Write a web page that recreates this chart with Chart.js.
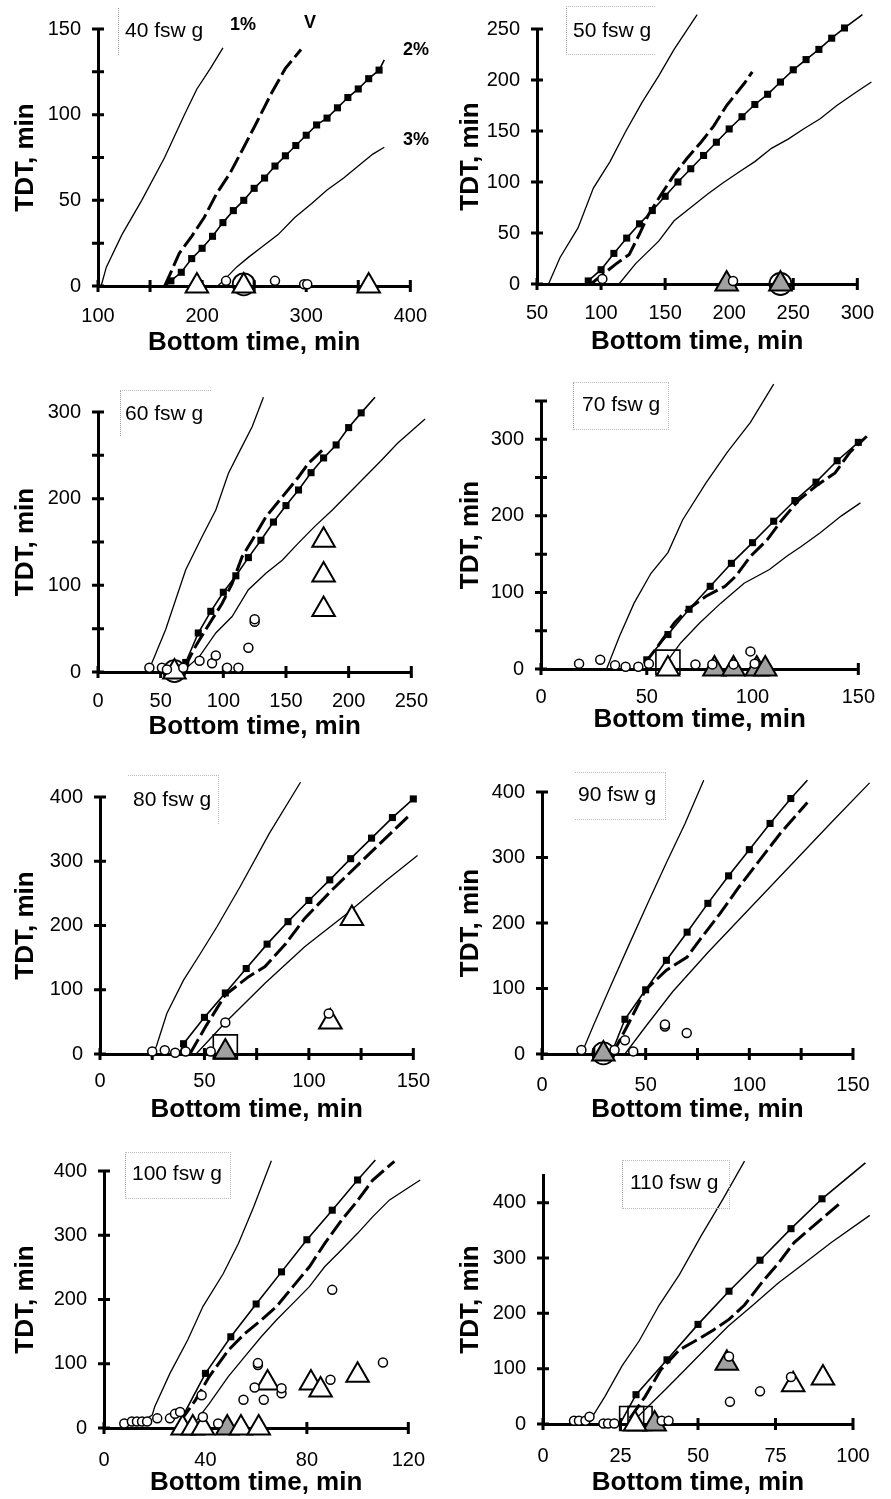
<!DOCTYPE html>
<html><head><meta charset="utf-8">
<script src="https://cdn.jsdelivr.net/npm/chart.js@4"></script>
<style>
body{margin:0;background:#fff;width:891px;height:1499px;position:relative;overflow:hidden;font-family:'Liberation Sans',Arial,sans-serif;}
canvas{position:absolute;}
.lbl{position:absolute;font-size:21px;line-height:21px;color:#000;white-space:pre;z-index:5;}
.box{position:absolute;border:1px dotted #bbb;border-left-color:#999;z-index:5;}
.pct{position:absolute;font-weight:bold;font-size:18px;line-height:18px;transform:translateX(-50%);z-index:5;}
</style></head><body>
<div class="box" style="left:118px;top:8px;width:95px;height:47px;border-right:none;border-top:none;border-bottom:none"></div>
<div class="lbl" style="left:125px;top:19px">40 fsw g</div>
<div class="box" style="left:566px;top:6px;width:88px;height:47px;border-right:none"></div>
<div class="lbl" style="left:573px;top:19px">50 fsw g</div>
<div class="box" style="left:120px;top:390px;width:90px;height:45px;border-right:none;border-bottom:none"></div>
<div class="lbl" style="left:125px;top:402px">60 fsw g</div>
<div class="box" style="left:573px;top:382px;width:94px;height:46px"></div>
<div class="lbl" style="left:582px;top:393px">70 fsw g</div>
<div class="box" style="left:128px;top:775px;width:90px;height:48px;border-left:none;border-bottom:none"></div>
<div class="lbl" style="left:133px;top:788px">80 fsw g</div>
<div class="box" style="left:575px;top:772px;width:90px;height:46px;border-left:none"></div>
<div class="lbl" style="left:578px;top:783px">90 fsw g</div>
<div class="box" style="left:125px;top:1152px;width:104px;height:45px"></div>
<div class="lbl" style="left:132px;top:1162px">100 fsw g</div>
<div class="box" style="left:622px;top:1160px;width:106px;height:47px"></div>
<div class="lbl" style="left:630px;top:1171px">110 fsw g</div>
<div class="pct" style="left:243px;top:15px">1%</div>
<div class="pct" style="left:310px;top:13px">V</div>
<div class="pct" style="left:416px;top:40px">2%</div>
<div class="pct" style="left:416px;top:130px">3%</div>
<script>
// ---------- DATA ----------
// 40 fsw g
const d40_p1 = [[103,0],[108,11],[123,30],[142,50],[164,75],[183,100],[195,115],[208,127],[220,139]];
const d40_v = [[164,0],[170,8],[178,19],[190,29],[202,40],[214,54],[227,66],[240,81],[252,95],[267,113],[280,127],[295,138]];
const d40_p2 = [[170,3],[180,8],[190,16],[200,22],[210,29],[220,37],[230,44],[240,50],[250,57],[260,63],[270,70],[280,76],[290,82],[300,88],[310,94],[320,98],[330,104],[340,110],[350,115],[360,121],[370,126]];
const d40_p2ext = [[165,0],[375,132]];
const d40_p3 = [[215,0],[222,4],[233,11],[245,17],[258,23],[273,30],[289,40],[305,48],[320,56],[336,63],[352,71],[364,77],[375,81]];
const d40_circ = [[223,3],[270,3],[298,1],[301,1]];
const d40_tri = [[195,0],[240,0],[360,0]];
const d40_bigc = [[240,1]];
// 50 fsw g
const d50_p1 = [[59,0],[68,26],[82,55],[94,94],[107,120],[119,149],[132,178],[145,204],[157,230],[175,264]];
const d50_v = [[92,0],[102,10],[112,20],[122,29],[130,49],[137,68],[147,88],[157,107],[167,123],[178,139],[188,155],[198,175],[212,197],[218,208]];
const d50_p2 = [[90,3],[100,14],[110,30],[120,45],[130,59],[140,72],[150,86],[160,100],[170,113],[180,126],[190,139],[200,152],[210,164],[220,176],[230,186],[240,198],[250,210],[260,220],[270,230],[280,241],[290,251]];
const d50_p2ext = [[304,264]];
const d50_p3 = [[114,0],[127,20],[145,42],[157,62],[170,75],[183,88],[195,99],[208,110],[220,120],[233,133],[246,142],[258,152],[271,162],[284,175],[299,188],[311,198]];
const d50_circ = [[101,5],[203,3]];
const d50_gtri = [[198,0],[240,0]];
const d50_bigc = [[240,0]];
// 60 fsw g
const d60_p1 = [[40,0],[54,49],[70,118],[83,156],[94,187],[104,229],[112,252],[123,283],[132,317]];
const d60_v = [[69,5],[78,30],[89,56],[99,79],[107,102],[115,133],[123,152],[134,179],[147,202],[160,225],[168,241],[179,256]];
const d60_p2 = [[70,11],[80,45],[90,70],[100,92],[110,111],[120,132],[130,152],[140,173],[150,192],[160,210],[170,230],[180,247],[190,262],[200,282],[210,299]];
const d60_p2ext = [[67,0],[221,317]];
const d60_p3 = [[67,0],[81,18],[94,45],[107,64],[120,95],[134,114],[147,129],[160,149],[173,168],[187,187],[200,206],[213,225],[226,244],[239,264],[261,292]];
const d60_circ = [[41,5],[51,5],[55,3],[68,5],[81,13],[91,10],[94,19],[103,5],[112,5],[120,28],[125,58],[125,61]];
const d60_tri = [[61,0],[180,72],[180,112],[180,152]];
const d60_bigc = [[61,1]];
// 70 fsw g
const d70_p1 = [[31,0],[37,42],[44,86],[52,125],[60,152],[67,195],[78,243],[88,283],[99,322],[110,372]];
const d70_v = [[49,7],[55,29],[63,60],[69,77],[78,95],[87,108],[92,121],[99,147],[107,169],[114,195],[122,221],[130,239],[139,256],[146,283],[154,304]];
const d70_p2 = [[50,12],[60,45],[70,78],[80,108],[90,138],[100,165],[110,193],[120,220],[130,244],[140,272],[150,296]];
const d70_p2ext = [[157,311]];
const d70_p3 = [[57,0],[66,34],[75,60],[85,86],[96,112],[108,130],[116,147],[123,160],[132,178],[142,200],[151,217],[158,232]];
const d70_circ = [[18,7],[28,12],[35,5],[40,3],[46,3],[51,7],[73,6],[81,6],[91,6],[99,23],[101,7]];
const d70_tri = [[60,0]];
const d70_gtri = [[82,0],[91,0],[102,0],[106,0]];
const d70_sq = [[60,9]];
// 80 fsw g
const d80_p1 = [[25,0],[27,12],[32,63],[40,115],[48,156],[56,198],[67,260],[81,343],[96,423]];
const d80_v = [[43,0],[51,45],[60,92],[71,120],[79,136],[89,172],[98,211],[111,255],[124,296],[138,340],[148,371]];
const d80_p2 = [[40,16],[50,57],[60,95],[70,133],[80,171],[90,206],[100,239],[110,271],[120,304],[130,336],[140,368],[150,397]];
const d80_p2ext = [[38,0],[157,418]];
const d80_p3 = [[46,0],[60,49],[79,110],[98,167],[118,218],[137,270],[152,309],[157,322]];
const d80_circ = [[25,4],[31,6],[36,2],[41,4],[53,4],[60,49],[109.5,63]];
const d80_tri = [[110.3,50],[120.6,211]];
const d80_gtri = [[60,3]];
const d80_sq = [[60,11]];
// 90 fsw g
const d90_p1 = [[19,0],[25,45],[33,103],[42,167],[51,230],[60,292],[69,352],[78,418]];
const d90_v = [[34,0],[41,42],[50,98],[60,128],[70,148],[76,174],[86,215],[95,255],[105,296],[115,337],[128,384]];
const d90_p2 = [[40,53],[50,98],[60,143],[70,186],[80,230],[90,272],[100,312],[110,352],[120,390]];
const d90_p2ext = [[34,5],[128,418]];
const d90_p3 = [[40,0],[50,42],[63,95],[80,155],[95,205],[110,255],[125,305],[140,355],[158,414]];
const d90_circ = [[19,6],[35,6],[40,21],[44,4],[59.3,42],[59.3,45],[69.8,32]];
const d90_gtri = [[29.6,0]];
const d90_bigc = [[29.6,1]];
// 100 fsw g
const d100_p1 = [[13,5],[19,20],[20,33],[26,85],[33,137],[39,189],[47,240],[53,287],[59,344],[66,416]];
const d100_v = [[30,10],[36,43],[41.5,80],[49,121],[55.5,147],[62,168],[68,189],[74.5,220],[81,251],[87,287],[93.6,323],[100,354],[106,386],[114.5,415]];
const d100_p2 = [[40,85],[50,142],[60,193],[70,243],[80,293],[90,339],[100,386]];
const d100_p2ext = [[29,3],[107,417]];
const d100_p3 = [[35,4],[41.5,38],[49,80],[55.5,111],[62,142],[68,168],[74.5,194],[81,220],[87,251],[93.6,277],[100,303],[106,329],[112.6,355],[124.7,386]];
const d100_circ = [[8,7],[11,10],[13,10],[15,10],[17,10],[21,15],[26,15],[28,22],[30,25],[38.5,51],[39,17],[45,7],[55,44],[59.4,63],[60.7,98],[60.7,101],[63,44],[70,54],[70,62],[89.3,75],[90,215],[110,102]];
const d100_tri = [[31,0],[35,0],[39,0],[54,0],[61,0],[64.5,70],[81.6,70],[85.4,59],[100,82]];
const d100_gtri = [[48.6,0]];
// 110 fsw g
const d110_p1 = [[15,8],[16,14],[20,50],[25.5,105],[31,150],[37.5,215],[44,270],[51,340],[58,406],[65,475]];
const d110_v = [[28,10],[33,50],[38,98],[44,134],[50,153],[55,170],[60,189],[65,215],[70.5,255],[76,291],[81,328],[86.6,355],[96,400]];
const d110_p2 = [[30,53],[40,116],[50,180],[60,240],[70,296],[80,353],[90,407]];
const d110_p2ext = [[25,2],[104,472]];
const d110_p3 = [[28.6,2],[34,32],[39.4,62],[45.8,98],[52.3,135],[59.8,177],[67.3,213],[75.9,255],[84.4,291],[93,328],[105.4,377]];
const d110_circ = [[10,6],[11.6,6],[13.7,6],[15,13],[19.5,1],[21,1],[23,1],[38.3,6],[40.5,6],[60.3,40],[70,59],[80,85],[60,122]];
const d110_tri = [[29.7,0],[80.7,71],[90.3,83]];
const d110_gtri = [[36,0],[59.3,110]];
const d110_sq = [[28.6,10],[31.3,10]];

// axis ranges / ticks
const xt40=[100,150,200,250,300,350,400], xl40=[100,200,300,400], yt40=[0,25,50,75,100,125,150], yl40=[0,50,100,150];
const xt50=[50,100,150,200,250,300], yt50=[0,50,100,150,200,250];
const xt60=[0,50,100,150,200,250], yt60=[0,50,100,150,200,250,300], yl60=[0,100,200,300];
const xt70=[0,50,100,150], yt70=[0,50,100,150,200,250,300,350], yl70=[0,100,200,300];
const xt80=[0,25,50,75,100,125,150], xl80=[0,50,100,150], yt80=[0,100,200,300,400];
const xt100=[0,40,80,120];
const xt110=[0,25,50,75,100], yt110=[0,100,200,300,400];

// ---------- BUILD ----------
Chart.defaults.font.family = "'Liberation Sans', Arial, sans-serif";
Chart.defaults.color = '#000';

const crossTicks = {
  id:'crossTicks',
  beforeDatasetsDraw(chart, args, o){
    const {ctx, chartArea:{left,bottom}} = chart;
    const xs = chart.scales.x, ys = chart.scales.y;
    ctx.save(); ctx.strokeStyle='#000'; ctx.lineWidth=3; ctx.beginPath();
    for (const v of o.xt){ const p = xs.getPixelForValue(v); ctx.moveTo(p,bottom-6); ctx.lineTo(p,bottom+6); }
    for (const v of o.yt){ const p = ys.getPixelForValue(v); ctx.moveTo(left-6,p); ctx.lineTo(left+6,p); }
    ctx.stroke(); ctx.restore();
  }
};

const pts = a => a.map(([x,y]) => ({x,y}));
const sortX = a => a.slice().sort((p,q)=>p[0]-q[0]);

const panels = [
 {d:{p1:d40_p1,v:d40_v,p2:d40_p2,p2e:d40_p2ext,p3:d40_p3,circ:d40_circ,tri:d40_tri,bigc:d40_bigc}, cv:[0,0,445,365], plot:[98,27,418,286], xr:[100,400], yr:[0,150], xt:xt40, xl:xl40, yt:yt40, yl:yl40, tOff:30, ttOff:57},
 {d:{p1:d50_p1,v:d50_v,p2:d50_p2,p2e:d50_p2ext,p3:d50_p3,circ:d50_circ,gtri:d50_gtri,bigc:d50_bigc}, cv:[445,0,446,365], plot:[537,26,867,284], xr:[50,300], yr:[0,250], xt:xt50, xl:xt50, yt:yt50, yl:yt50, tOff:29, ttOff:58},
 {d:{p1:d60_p1,v:d60_v,p2:d60_p2,p2e:d60_p2ext,p3:d60_p3,circ:d60_circ,tri:d60_tri,bigc:d60_bigc}, cv:[0,365,445,375], plot:[98,412,413,672], xr:[0,250], yr:[0,300], xt:xt60, xl:xt60, yt:yt60, yl:yl60, tOff:29, ttOff:55},
 {d:{p1:d70_p1,v:d70_v,p2:d70_p2,p2e:d70_p2ext,p3:d70_p3,circ:d70_circ,tri:d70_tri,gtri:d70_gtri,sq:d70_sq}, cv:[445,365,446,375], plot:[541,401,870,669], xr:[0,150], yr:[0,350], xt:xt70, xl:xt70, yt:yt70, yl:yl70, tOff:28, ttOff:51},
 {d:{p1:d80_p1,v:d80_v,p2:d80_p2,p2e:d80_p2ext,p3:d80_p3,circ:d80_circ,tri:d80_tri,gtri:d80_gtri,sq:d80_sq}, cv:[0,740,445,385], plot:[100,797,415,1054], xr:[0,150], yr:[0,400], xt:xt80, xl:xl80, yt:yt80, yl:yt80, tOff:27, ttOff:56},
 {d:{p1:d90_p1,v:d90_v,p2:d90_p2,p2e:d90_p2ext,p3:d90_p3,circ:d90_circ,gtri:d90_gtri,bigc:d90_bigc}, cv:[445,740,446,385], plot:[542,792,853,1054], xr:[0,150], yr:[0,400], xt:xt80, xl:xl80, yt:yt80, yl:yt80, tOff:31, ttOff:56},
 {d:{p1:d100_p1,v:d100_v,p2:d100_p2,p2e:d100_p2ext,p3:d100_p3,circ:d100_circ,tri:d100_tri,gtri:d100_gtri}, cv:[0,1125,445,374], plot:[104,1171,419,1428], xr:[0,120], yr:[0,400], xt:xt100, xl:xt100, yt:yt80, yl:yt80, tOff:32, ttOff:55},
 {d:{p1:d110_p1,v:d110_v,p2:d110_p2,p2e:d110_p2ext,p3:d110_p3,circ:d110_circ,tri:d110_tri,gtri:d110_gtri,sq:d110_sq}, cv:[445,1125,446,374], plot:[543,1175,853,1424], xr:[0,100], yr:[0,450], xt:xt110, xl:xt110, yt:yt110, yl:yt110, tOff:32, ttOff:59}
];

function scatterDS(a, style, r, bg, bw){
  return {data:pts(a), showLine:false, pointStyle:style, pointRadius:r, pointBorderColor:'#000', pointBackgroundColor:bg, pointBorderWidth:bw, clip:false};
}
function lineDS(a, w, dash){
  return {data:pts(a), showLine:true, pointRadius:0, borderColor:'#000', borderWidth:w, borderDash:dash||[], tension:0, fill:false, clip:false};
}

for (const L of panels){
  const [cx,cy,cw,ch] = L.cv, [pl,pt,pr,pb] = L.plot;
  const cvs = document.createElement('canvas');
  cvs.width = cw; cvs.height = ch;
  cvs.style.left = cx+'px'; cvs.style.top = cy+'px';
  document.body.appendChild(cvs);
  const yW = pl - cx, xH = cy + ch - pb;
  const xTitlePad = Math.max(0, (cy+ch) - (pb + L.ttOff) - 13);
  const D = L.d, ds = [];
  if (D.circ) ds.push(scatterDS(D.circ,'circle',4.5,'#fff',1.5));
  if (D.tri) ds.push(scatterDS(D.tri,'triangle',13,'#fff',2));
  if (D.gtri) ds.push(scatterDS(D.gtri,'triangle',13,'#a0a0a0',2));
  if (D.bigc) ds.push(scatterDS(D.bigc,'circle',11,'rgba(0,0,0,0)',1.8));
  if (D.sq) ds.push(scatterDS(D.sq,'rect',17,'rgba(0,0,0,0)',1.6));
  ds.push(scatterDS(D.p2,'rect',5,'#000',0));
  ds.push(lineDS(sortX(D.p2.concat(D.p2e)),1.6));
  ds.push(lineDS(D.v,3,[17,5]));
  ds.push(lineDS(D.p1,1.3));
  ds.push(lineDS(D.p3,1.3));
  new Chart(cvs, {
    type:'scatter',
    data:{datasets:ds},
    options:{
      responsive:false, animation:false, events:[],
      layout:{padding:{left:0, top:pt-cy, right:cx+cw-pr, bottom:0}},
      plugins:{legend:{display:false}, tooltip:{enabled:false}, crossTicks:{xt:L.xt, yt:L.yt}},
      scales:{
        x:{type:'linear', min:L.xr[0], max:L.xr[1],
           grid:{display:false, drawTicks:false, tickLength:0}, border:{display:true,color:'#000',width:3},
           afterBuildTicks:s=>{ s.ticks = L.xl.map(v=>({value:v})); },
           afterFit:s=>{ s.height = xH; },
           ticks:{autoSkip:false, maxRotation:0, minRotation:0, padding:L.tOff-12, font:{size:20}, color:'#000'},
           title:{display:true, text:'Bottom time, min', font:{size:26, weight:'bold', lineHeight:1}, color:'#000', padding:{top:0,bottom:xTitlePad}}},
        y:{type:'linear', min:L.yr[0], max:L.yr[1],
           grid:{display:false, drawTicks:false, tickLength:0}, border:{display:true,color:'#000',width:3},
           afterBuildTicks:s=>{ s.ticks = L.yl.map(v=>({value:v})); },
           afterFit:s=>{ s.width = yW; },
           ticks:{autoSkip:false, padding:17, font:{size:20}, color:'#000'},
           title:{display:true, text:'TDT, min', font:{size:26, weight:'bold', lineHeight:1}, color:'#000', padding:{top:13,bottom:0}}}
      }
    },
    plugins:[crossTicks]
  });
}
</script>
</body></html>
